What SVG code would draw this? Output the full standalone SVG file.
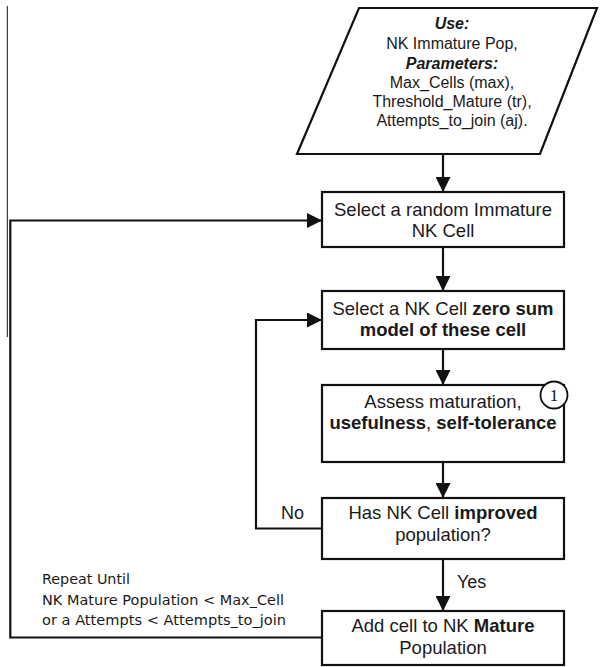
<svg xmlns="http://www.w3.org/2000/svg" width="601" height="667" viewBox="0 0 601 667">
<style>
.shape{fill:#fff;stroke:#111;stroke-width:2.2}
.conn{fill:none;stroke:#111;stroke-width:2.2}
.t{font-family:"Liberation Sans",Arial,sans-serif;font-size:18.5px;fill:#1a1a1a;text-anchor:middle}
.p{font-family:"Liberation Sans",Arial,sans-serif;font-size:16px;fill:#1a1a1a;text-anchor:middle}
.b{font-weight:bold}
.bi{font-weight:bold;font-style:italic}
.lbl{font-family:"Liberation Sans",Arial,sans-serif;font-size:18px;fill:#1a1a1a}
.rep{font-family:"DejaVu Sans",Verdana,sans-serif;font-size:14.5px;fill:#1a1a1a}
</style>
<defs>
<marker id="ah" viewBox="0 0 15 15" refX="15" refY="7.5" markerWidth="15" markerHeight="15" markerUnits="userSpaceOnUse" orient="auto">
<path d="M0,0 L15,7.5 L0,15 Z" fill="#111"/>
</marker>
</defs>
<line x1="7.3" y1="6" x2="7.3" y2="337" stroke="#111" stroke-width="1"/>
<g id="connectors">
<line class="conn" x1="443" y1="154" x2="443" y2="192" marker-end="url(#ah)"/>
<line class="conn" x1="443" y1="247" x2="443" y2="291" marker-end="url(#ah)"/>
<line class="conn" x1="443" y1="349" x2="443" y2="385" marker-end="url(#ah)"/>
<line class="conn" x1="443" y1="462" x2="443" y2="498" marker-end="url(#ah)"/>
<line class="conn" x1="443" y1="559" x2="443" y2="611" marker-end="url(#ah)"/>
<polyline class="conn" points="322,528.5 256,528.5 256,320 322,320" marker-end="url(#ah)"/>
<polyline class="conn" points="322,637.5 10.3,637.5 10.3,220.5 322,220.5" marker-end="url(#ah)"/>
<text class="lbl" x="304" y="519" text-anchor="end">No</text>
<text class="lbl" x="457" y="588">Yes</text>
<text class="rep" x="42" y="584" textLength="88" lengthAdjust="spacingAndGlyphs">Repeat Until</text>
<text class="rep" x="42" y="605" textLength="242" lengthAdjust="spacingAndGlyphs">NK Mature Population &lt; Max_Cell</text>
<text class="rep" x="42" y="625" textLength="244" lengthAdjust="spacingAndGlyphs">or a Attempts &lt; Attempts_to_join</text>
</g>
<g id="input">
<polygon class="shape" points="359,8 597,8 540,154 297,154"/>
<text class="p" x="452" y="29"><tspan class="bi">Use:</tspan></text>
<text class="p" x="452" y="49">NK Immature Pop,</text>
<text class="p" x="452" y="69"><tspan class="bi">Parameters:</tspan></text>
<text class="p" x="452" y="88">Max_Cells (max),</text>
<text class="p" x="452" y="107">Threshold_Mature (tr),</text>
<text class="p" x="452" y="126">Attempts_to_join (aj).</text>
</g>
<g id="select-random">
<rect class="shape" x="322" y="192" width="242" height="55"/>
<text class="t" x="443" y="216">Select a random Immature</text>
<text class="t" x="443" y="237">NK Cell</text>
</g>
<g id="select-model">
<rect class="shape" x="322" y="291" width="242" height="58"/>
<text class="t" x="443" y="315">Select a NK Cell <tspan class="b">zero sum</tspan></text>
<text class="t" x="443" y="336"><tspan class="b">model of these cell</tspan></text>
</g>
<g id="assess">
<rect class="shape" x="322" y="385" width="242" height="77"/>
<text class="t" x="443" y="408">Assess maturation,</text>
<text class="t" x="443" y="429"><tspan class="b">usefulness</tspan>, <tspan class="b">self-tolerance</tspan></text>
<circle cx="554" cy="395" r="13.5" fill="#fff" stroke="#111" stroke-width="1.8"/>
<text x="554" y="401" text-anchor="middle" font-family="'Liberation Serif','Times New Roman',serif" font-size="17" fill="#111">1</text>
</g>
<g id="improved">
<rect class="shape" x="322" y="498" width="242" height="61"/>
<text class="t" x="443" y="519">Has NK Cell <tspan class="b">improved</tspan></text>
<text class="t" x="443" y="541">population?</text>
</g>
<g id="add-cell">
<rect class="shape" x="322" y="611" width="242" height="54"/>
<text class="t" x="443" y="632">Add cell to NK <tspan class="b">Mature</tspan></text>
<text class="t" x="443" y="654">Population</text>
</g>
</svg>
